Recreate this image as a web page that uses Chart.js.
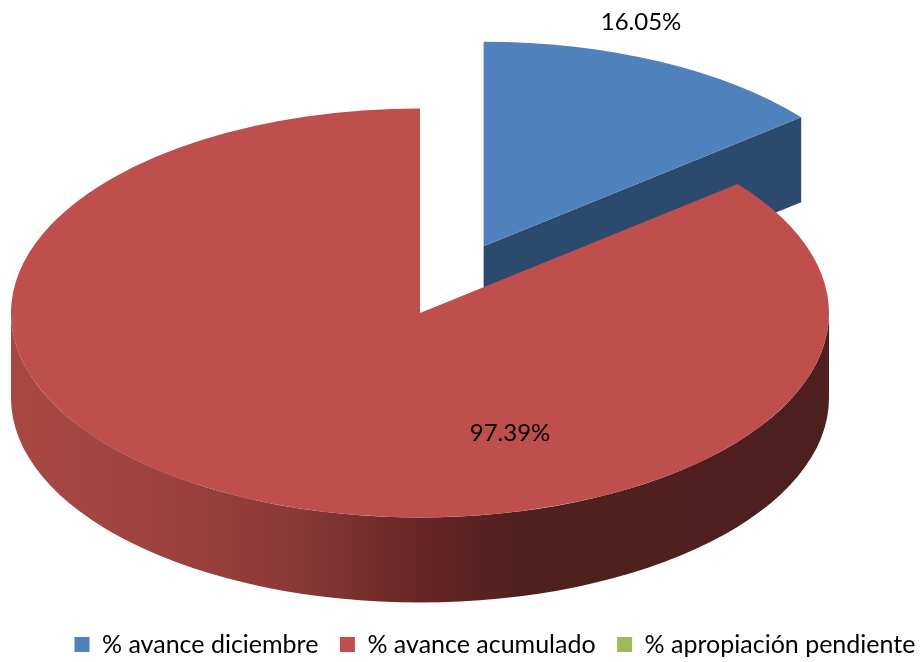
<!DOCTYPE html>
<html>
<head>
<meta charset="utf-8">
<title>Avance</title>
<script src="https://cdn.jsdelivr.net/npm/chart.js@4/dist/chart.umd.js"></script>
<style>
    html, body { margin: 0; padding: 0; background: #fff; }
    #wrap { width: 920px; height: 662px; }
</style>
</head>
<body>
<div id="wrap"><canvas id="pie" width="920" height="662"></canvas></div>
<script>
let categories = ["% avance diciembre", "% avance acumulado", "% apropiación pendiente"]
let values = [16.05, 97.39, 0]
let value_labels = ["16.05%", "97.39%", ""]
let colors = ["#4f81bd", "#be4f4c", "#9bbb59"]
let wall_colors = ["#2c4a6e", "#4f1f1d", "#5f7a35"]

// Fake 3D: Chart.js draws a flat pie, the plugin squashes it and adds the walls
const center_x = 420
const center_y = 313
const squash = 0.5
const depth = 85
const explode = [148, 0, 0]
const label_pos = [[641, 22], [510, 433]]

function screen_point(arc, base, angle, drop) {
    let dx = arc.x - base.x
    let dy = arc.y - base.y
    return {
        x: center_x + dx + Math.cos(angle) * arc.outerRadius,
        y: center_y + (dy + Math.sin(angle) * arc.outerRadius) * squash + drop
    }
}

function draw_walls(ctx, arc, base, i) {
    let r = arc.outerRadius
    let cx = center_x + arc.x - base.x
    let cy = center_y + (arc.y - base.y) * squash

    // Cut face along the end edge of the slice
    let end_top = screen_point(arc, base, arc.endAngle, 0)
    ctx.fillStyle = wall_colors[i]
    ctx.beginPath()
    ctx.moveTo(cx, cy)
    ctx.lineTo(end_top.x, end_top.y)
    ctx.lineTo(end_top.x, end_top.y + depth)
    ctx.lineTo(cx, cy + depth)
    ctx.closePath()
    ctx.fill()

    // Outer face, only the front half of the ellipse shows
    let from = Math.max(arc.startAngle, 0)
    let to = Math.min(arc.endAngle, Math.PI)
    if (to <= from) {
        return
    }
    let grad = ctx.createLinearGradient(cx - r, 0, cx + r, 0)
    grad.addColorStop(0, "#a84845")
    grad.addColorStop(0.17, "#9f4340")
    grad.addColorStop(0.354, "#8a3836")
    grad.addColorStop(0.395, "#7e3432")
    grad.addColorStop(0.5, "#672625")
    grad.addColorStop(0.62, "#50201e")
    grad.addColorStop(1, "#4d1f1e")
    ctx.fillStyle = grad
    ctx.beginPath()
    ctx.ellipse(cx, cy, r, r * squash, 0, from, to)
    ctx.ellipse(cx, cy + depth, r, r * squash, 0, to, from, true)
    ctx.closePath()
    ctx.fill()
}

const pie_3d = {
    id: "pie_3d",
    afterDatasetUpdate(chart) {
        let arcs = chart.getDatasetMeta(0).data
        arcs.forEach((arc, i) => {
            let mid = (arc.startAngle + arc.endAngle) / 2
            arc.x += Math.cos(mid) * explode[i]
            arc.y += Math.sin(mid) * explode[i]
        })
    },
    beforeDatasetsDraw(chart) {
        let ctx = chart.ctx
        let arcs = chart.getDatasetMeta(0).data
        let base = arcs[1]
        ctx.save()
        arcs.forEach((arc, i) => draw_walls(ctx, arc, base, i))
        ctx.restore()

        ctx.save()
        ctx.translate(center_x, center_y)
        ctx.scale(1, squash)
        ctx.translate(-base.x, -base.y)
    },
    afterDatasetsDraw(chart) {
        chart.ctx.restore()
    },
    afterDraw(chart) {
        let ctx = chart.ctx
        ctx.save()
        ctx.font = "24px Lato"
        ctx.fillStyle = "#000"
        ctx.textAlign = "center"
        ctx.textBaseline = "middle"
        label_pos.forEach((pos, i) => ctx.fillText(value_labels[i], pos[0], pos[1]))
        ctx.restore()
    }
}

new Chart("pie", {
    type: "pie",
    plugins: [pie_3d],
    data: {
        labels: categories,
        datasets: [{
            data: values,
            backgroundColor: colors,
            borderWidth: 0,
            radius: 409,
            clip: false
        }]
    },
    options: {
        responsive: false,
        animation: false,
        events: [],
        layout: {
            // negative right padding keeps the wide legend on one line
            padding: { left: 53, right: -60, bottom: -5 }
        },
        plugins: {
            tooltip: { enabled: false },
            legend: {
                position: "bottom",
                align: "start",
                labels: {
                    color: "#000",
                    boxWidth: 15,
                    boxHeight: 15,
                    padding: 21.5,
                    font: { family: "Lato", size: 25 }
                }
            }
        }
    }
})
</script>
</body>
</html>
